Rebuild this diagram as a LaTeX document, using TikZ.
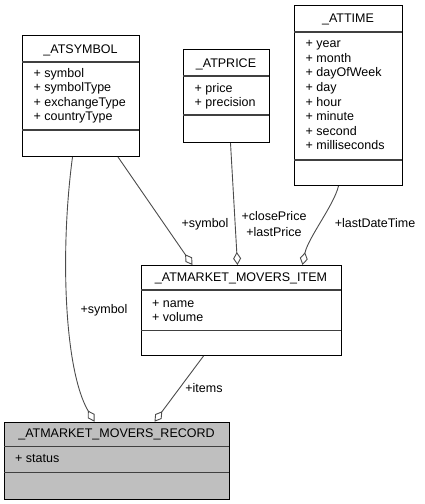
\documentclass[tikz,border=0pt]{standalone}
\usepackage{fontspec}
\setmainfont{Liberation Sans}
\usetikzlibrary{arrows.meta}
\begin{document}
\begin{tikzpicture}[x=1pt,y=-1pt,
  every node/.style={font=\fontsize{12.5}{15.5}\selectfont, inner sep=0pt},
  umlbox/.style={draw=black, line width=1pt, fill=white, anchor=north west},
  sepline/.style={draw=black!75, line width=1.3pt},
  attr/.style={anchor=base west},
  ttl/.style={anchor=base},
  assoc/.style={draw=black!70, line width=0.9pt, -{Diamond[open, fill=white, length=13pt, width=8pt]}},
  lbl/.style={anchor=center, align=center}
]
\useasboundingbox (0,0) rectangle (424,504);

% _ATSYMBOL
\node[umlbox, minimum width=117pt, minimum height=121pt] (sym) at (22,35) {};
\draw[sepline] (22,62) -- (139,62);
\draw[sepline] (22,130) -- (139,130);
\node[ttl] (symt) at (80.5,53) {\_ATSYMBOL};
\foreach \a [count=\i] in {symbol,symbolType,exchangeType,countryType}
  \node[attr] (syma\i) at (33.5,{62.5+14.6*\i}) {+ \a};

% _ATPRICE
\node[umlbox, minimum width=86pt, minimum height=93pt] (price) at (183,49) {};
\draw[sepline] (183,76) -- (269,76);
\draw[sepline] (183,115) -- (269,115);
\node[ttl] (pricet) at (226,67) {\_ATPRICE};
\foreach \a [count=\i] in {price,precision}
  \node[attr] (pricea\i) at (194.5,{77.4+14.6*\i}) {+ \a};

% _ATTIME
\node[umlbox, minimum width=108pt, minimum height=180pt] (time) at (294,5) {};
\draw[sepline] (294,32) -- (402,32);
\draw[sepline] (294,160) -- (402,160);
\node[ttl] (timet) at (348,22.8) {\_ATTIME};
\foreach \a [count=\i] in {year,month,dayOfWeek,day,hour,minute,second,milliseconds}
  \node[attr] (timea\i) at (305.5,{33+14.6*\i}) {+ \a};

% _ATMARKET_MOVERS_ITEM
\node[umlbox, minimum width=200pt, minimum height=90pt] (item) at (141,265) {};
\draw[sepline] (141,290) -- (341,290);
\draw[sepline] (141,330.7) -- (341,330.7);
\node[ttl] (itemt) at (241,281.5) {\_ATMARKET\_MOVERS\_ITEM};
\foreach \a [count=\i] in {name,volume}
  \node[attr] (itema\i) at (152,{292.4+14.6*\i}) {+ \a};

% _ATMARKET_MOVERS_RECORD
\node[umlbox, fill=black!25, minimum width=225pt, minimum height=77.3pt] (rec) at (4,421.7) {};
\draw[sepline] (4,446.7) -- (229,446.7);
\draw[sepline] (4,472.7) -- (229,472.7);
\node[ttl] (rect) at (116.5,437.5) {\_ATMARKET\_MOVERS\_RECORD};
\node[attr] (reca1) at (15,462.5) {+ status};

% connectors
\draw[assoc] ([xshift=-8.5pt]sym.south) .. controls (60,250) and (64,370) .. ([xshift=-22.5pt]rec.north);
\draw[assoc] ([xshift=37pt]sym.south) -- ([xshift=-49pt]item.north);
\draw[assoc] ([xshift=4pt]price.south) -- ([xshift=-4pt]item.north);
\draw[assoc] ([xshift=-10pt]time.south) .. controls (334,205) and (308,238) .. ([xshift=-46pt]time.south |- item.north);
\draw[assoc] ([xshift=-38pt]item.south) -- ([xshift=37.5pt]rec.north);

% labels
\node[lbl] (l1) at (104,310) {+symbol};
\node[lbl] (l2) at (205,224) {+symbol};
\node[lbl] (l3) at (274,224) {+closePrice\\+lastPrice};
\node[lbl] (l4) at (375,223) {+lastDateTime};
\node[lbl] (l5) at (204,388) {+items};
\end{tikzpicture}
\end{document}
